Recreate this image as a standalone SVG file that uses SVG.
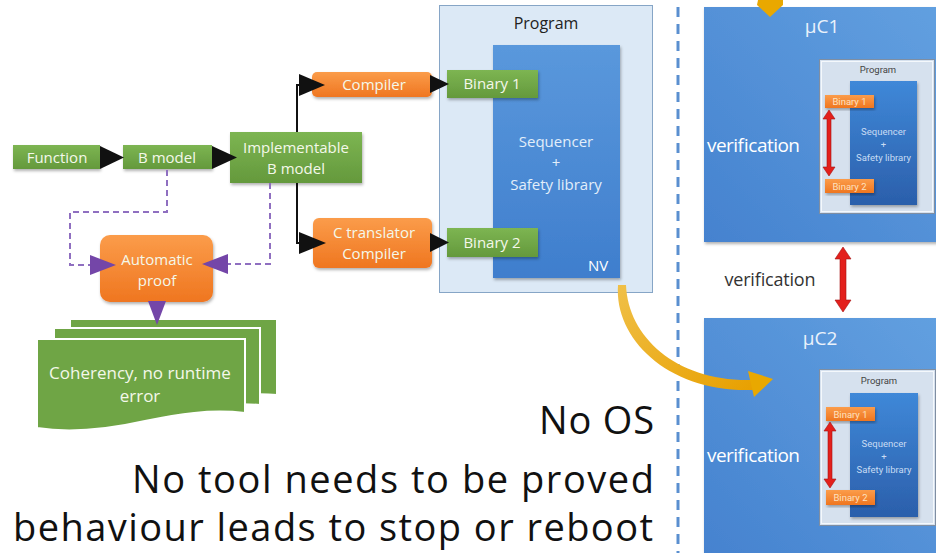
<svg xmlns="http://www.w3.org/2000/svg" width="936" height="553" viewBox="0 0 936 553">
<defs>
  <linearGradient id="gGreen" x1="0" y1="0" x2="0" y2="1"><stop offset="0" stop-color="#7db552"/><stop offset="1" stop-color="#64993c"/></linearGradient>
  <linearGradient id="gOrange" x1="0" y1="0" x2="0" y2="1"><stop offset="0" stop-color="#fb9c4a"/><stop offset="1" stop-color="#ef7620"/></linearGradient>
  <linearGradient id="gBlue" x1="0" y1="0" x2="0" y2="1"><stop offset="0" stop-color="#5a98dc"/><stop offset="1" stop-color="#3f7ecd"/></linearGradient>
  <linearGradient id="gMC" x1="1" y1="0" x2="0" y2="1"><stop offset="0" stop-color="#62a0e0"/><stop offset="1" stop-color="#4582cf"/></linearGradient>
  <linearGradient id="gDark" x1="0" y1="0" x2="0" y2="1"><stop offset="0" stop-color="#3f88d8"/><stop offset="1" stop-color="#2b5fab"/></linearGradient>
  <linearGradient id="gGold" x1="0" y1="0" x2="1" y2="1"><stop offset="0" stop-color="#f0c048"/><stop offset="1" stop-color="#e8a000"/></linearGradient>
  <filter id="sh" x="-10%" y="-10%" width="130%" height="130%"><feDropShadow dx="1" dy="2" stdDeviation="1.5" flood-color="#000" flood-opacity="0.3"/></filter>
</defs>
<style>
  .t{font-family:"Open Sans","Noto Sans","Liberation Sans",sans-serif}
  .lbl{font-size:15px;fill:#f4f8ea;text-anchor:middle}
  .seq{font-size:15px;fill:#e2eefa;text-anchor:middle}
  .green{fill:url(#gGreen)}
  .orange{fill:url(#gOrange)}
  .sm{font-family:Roboto,"Liberation Sans",sans-serif;font-size:9.5px;text-anchor:middle}
  .smo{fill:url(#gOrange);filter:url(#sh)}
  .mc{fill:url(#gMC)}
  .ver{font-size:19px;fill:#ffffff}
  .big{font-size:38px;fill:#111;text-anchor:end}
  .blk{fill:#111}
  .blkl{stroke:#111;stroke-width:2;fill:none}
  .pd{stroke:#8f6fc0;stroke-width:2;stroke-dasharray:6 4;fill:none}
  .pa{fill:#7446a8}
  .red{fill:#e3201c;stroke:#a51010;stroke-width:0.6}
  .doc{fill:#6fa545;stroke:#ffffff;stroke-width:2}
</style>

<!-- nodes -->
<g id="function"><rect x="13" y="145" width="87" height="24" class="green" filter="url(#sh)"/><text x="57" y="162.5" class="t lbl">Function</text></g>
<g id="bmodel"><rect x="123" y="145" width="89" height="24" class="green" filter="url(#sh)"/><text x="167" y="162.5" class="t lbl">B model</text></g>
<g id="implementable"><rect x="230" y="132" width="132" height="51" class="green" filter="url(#sh)"/><text x="296" y="153" class="t lbl">Implementable</text><text x="296" y="174" class="t lbl">B model</text></g>
<g id="compiler"><rect x="312" y="72" width="120" height="25" rx="5" class="orange" filter="url(#sh)"/><text x="374" y="90" class="t lbl">Compiler</text></g>
<g id="ctranslator"><rect x="313" y="218" width="119" height="50" rx="6" class="orange" filter="url(#sh)"/><text x="374" y="238" class="t lbl">C translator</text><text x="374" y="259" class="t lbl">Compiler</text></g>
<g id="proof"><rect x="100" y="235" width="113" height="67" rx="10" class="orange" filter="url(#sh)"/><text x="157" y="265" class="t lbl">Automatic</text><text x="157" y="286" class="t lbl">proof</text></g>
<g id="coherency">
  <path class="doc" d="M70 319 H277 V395 C245 392 215 397 185 404 C150 412 110 412 70 408 Z"/>
  <path class="doc" d="M54 328 H260 V405 C228 402 198 407 168 414 C133 422 93 422 54 418 Z"/>
  <path class="doc" d="M37 339 H245 V413 C210 409 178 414 145 421 C105 430 68 433 37 428 Z"/>
  <text x="140" y="379" class="t lbl" style="font-size:17px">Coherency, no runtime</text>
  <text x="140" y="402" class="t lbl" style="font-size:17px">error</text>
</g>
<g id="program">
  <rect x="439.5" y="5.5" width="213" height="287" fill="#dce9f6" stroke="#86a5c6" stroke-width="1"/>
  <text x="546" y="29" class="t" style="font-size:16px;fill:#222;text-anchor:middle">Program</text>
  <rect x="493" y="45" width="127" height="233" fill="url(#gBlue)" filter="url(#sh)"/>
  <text x="556" y="147" class="t seq">Sequencer</text>
  <text x="556" y="168" class="t seq">+</text>
  <text x="556" y="190" class="t seq">Safety library</text>
  <text x="598" y="271" class="t" style="font-size:15px;fill:#fff;text-anchor:middle">NV</text>
</g>
<g id="binary1"><rect x="447" y="70" width="91" height="28" class="green" filter="url(#sh)"/><text x="492" y="89" class="t lbl">Binary 1</text></g>
<g id="binary2"><rect x="447" y="228" width="91" height="29" class="green" filter="url(#sh)"/><text x="492" y="248" class="t lbl">Binary 2</text></g>

<g id="uc1">
  <rect x="704" y="7" width="240" height="235" class="mc" filter="url(#sh)"/>
  <text x="822" y="33" class="t" style="font-size:19px;fill:#eaf2fb;text-anchor:middle">µC1</text>
  <text x="707" y="152" class="t ver" textLength="93">verification</text>
  <rect x="819.5" y="59.5" width="115" height="154" fill="#d6e1ee" stroke="#7f8ea2"/>
  <rect x="821.5" y="61.5" width="111" height="150" fill="none" stroke="#f4f8fc"/>
  <text x="878" y="73" class="sm" fill="#444">Program</text>
  <rect x="850" y="81" width="67" height="124" fill="url(#gDark)" filter="url(#sh)"/>
  <text x="883.5" y="135" class="sm" fill="#c8dcf4">Sequencer</text>
  <text x="883.5" y="148" class="sm" fill="#c8dcf4">+</text>
  <text x="883.5" y="161" class="sm" fill="#c8dcf4">Safety library</text>
  <rect x="825" y="95" width="49" height="13" class="smo"/><text x="849.5" y="105" class="sm" fill="#fde2c0">Binary 1</text>
  <rect x="825" y="179" width="49" height="14" class="smo"/><text x="849.5" y="190" class="sm" fill="#fde2c0">Binary 2</text>
</g>
<g id="uc2">
  <rect x="704" y="318" width="240" height="240" class="mc" filter="url(#sh)"/>
  <text x="820" y="345" class="t" style="font-size:19px;fill:#eaf2fb;text-anchor:middle">µC2</text>
  <text x="707" y="462" class="t ver" textLength="93">verification</text>
  <rect x="819.5" y="369.5" width="116" height="156" fill="#d6e1ee" stroke="#7f8ea2"/>
  <rect x="821.5" y="371.5" width="112" height="152" fill="none" stroke="#f4f8fc"/>
  <text x="879" y="384" class="sm" fill="#444">Program</text>
  <rect x="850" y="393" width="68" height="124" fill="url(#gDark)" filter="url(#sh)"/>
  <text x="884" y="447" class="sm" fill="#c8dcf4">Sequencer</text>
  <text x="884" y="460" class="sm" fill="#c8dcf4">+</text>
  <text x="884" y="473" class="sm" fill="#c8dcf4">Safety library</text>
  <rect x="826" y="407" width="49" height="14" class="smo"/><text x="850.5" y="418" class="sm" fill="#fde2c0">Binary 1</text>
  <rect x="826" y="490" width="49" height="15" class="smo"/><text x="850.5" y="501" class="sm" fill="#fde2c0">Binary 2</text>
</g>

<g id="notes">
  <text x="654" y="434" class="t big" textLength="115">No OS</text>
  <text x="654" y="493" class="t big" textLength="522">No tool needs to be proved</text>
  <text x="653" y="541" class="t big" textLength="640">behaviour leads to stop or reboot</text>
</g>

<!-- connectors -->
<g id="connectors">
  <polygon class="blk" points="100,146 124,157.5 100,169"/>
  <polygon class="blk" points="212,146 237,157.5 212,169"/>
  <path class="blkl" d="M297 132 V85 H302"/>
  <polygon class="blk" points="299,74 325,85 299,96"/>
  <path class="blkl" d="M297 183 V243 H302"/>
  <polygon class="blk" points="299,232 326,243 299,254"/>
  <polygon class="blk" points="430,75 449,84 430,93"/>
  <polygon class="blk" points="430,233 449,242.5 430,252"/>
  <path class="pd" d="M167 170 V212 H70 V265 H92"/>
  <polygon class="pa" points="90,255 116,265 90,275"/>
  <path class="pd" d="M270 183 V264 H228"/>
  <polygon class="pa" points="228,254 202,264 228,274"/>
  <polygon class="pa" points="148,301 166,301 157,325"/>
  <line x1="678" y1="7" x2="678" y2="553" stroke="#5a8fd0" stroke-width="3" stroke-dasharray="10 7"/>
  <path fill="url(#gGold)" d="M618 285 C614 340 670 393 753 390 L752 380 C678 382 628 338 626 285 Z"/>
  <polygon fill="#e9a800" points="748,371 773,379 754,397"/>
  <polygon fill="#e9a800" points="758,0 783,0 783,5 770,17 757,5"/>
  <polygon class="red" points="829,110 835,119 831,119 831,167 835,167 829,176 823,167 827,167 827,119 823,119"/>
  <polygon class="red" points="830,422 836,431 832,431 832,479 836,479 830,488 824,479 828,479 828,431 824,431"/>
  <polygon class="red" points="843,247 851,259 846,259 846,300 851,300 843,312 835,300 840,300 840,259 835,259"/>
  <text x="770" y="286" class="t" style="font-size:18px;fill:#333;text-anchor:middle" textLength="91">verification</text>
</g>
</svg>
